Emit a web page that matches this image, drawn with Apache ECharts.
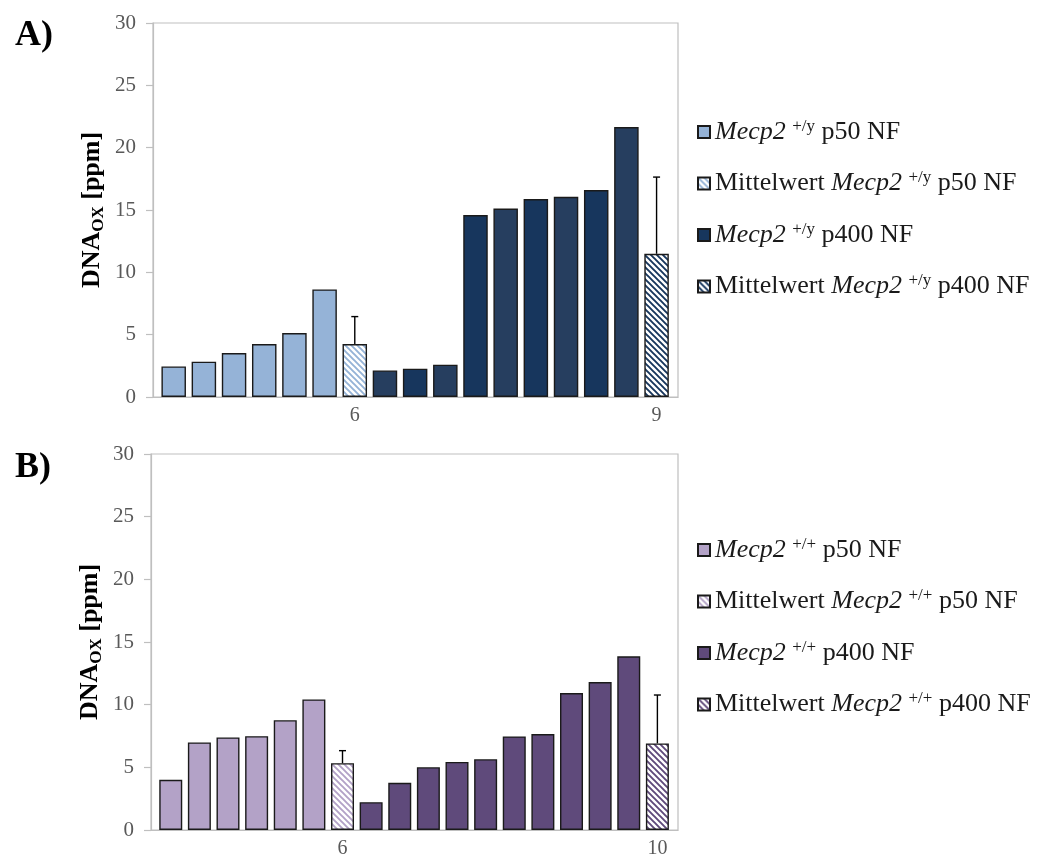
<!DOCTYPE html>
<html>
<head>
<meta charset="utf-8">
<script src="https://cdn.jsdelivr.net/npm/echarts@6.0.0/dist/echarts.min.js"></script>
<style>
  html, body { margin: 0; padding: 0; background: #fff; }
  #chart { width: 1043px; height: 859px; }
</style>
</head>
<body>
<div id="chart"></div>
<script>
// ---------------- DATA ----------------
// Panel A (Mecp2 +/y)
const A_p50 = [2.45, 2.83, 3.53, 4.25, 5.13, 8.63];
const A_p50_mean = [4.25];
const A_p50_err = [2.2];
const A_p400 = [2.13, 2.27, 2.59, 14.6, 15.12, 15.88, 16.06, 16.6, 21.65];
const A_p400_mean = [11.49];
const A_p400_err = [6.15];
const A_tickLabels = ['6', '9'];
const A_names = ['Mecp2 +/y p50 NF', 'Mittelwert Mecp2 +/y p50 NF', 'Mecp2 +/y p400 NF', 'Mittelwert Mecp2 +/y p400 NF'];

// Panel B (Mecp2 +/+)
const B_p50 = [4.0, 6.99, 7.39, 7.49, 8.76, 10.42];
const B_p50_mean = [5.33];
const B_p50_err = [1.0];
const B_p400 = [2.22, 3.77, 5.01, 5.43, 5.65, 7.47, 7.65, 10.93, 11.80, 13.86];
const B_p400_mean = [6.91];
const B_p400_err = [3.86];
const B_tickLabels = ['6', '10'];
const B_names = ['Mecp2 +/+ p50 NF', 'Mittelwert Mecp2 +/+ p50 NF', 'Mecp2 +/+ p400 NF', 'Mittelwert Mecp2 +/+ p400 NF'];

const yTicks = [0, 5, 10, 15, 20, 25, 30];
const yTitle = ['DNA', 'OX', ' [ppm]'];
const panelLabels = ['A)', 'B)'];

// ---------------- STYLE ----------------
const FONT = 'Liberation Serif';
const GRAY = '#bfbfbf';
const BORDER = '#1a1a1a';

function hatch(color) {
  const c = document.createElement('canvas');
  c.width = 6; c.height = 6;
  const ctx = c.getContext('2d');
  ctx.fillStyle = '#ffffff';
  ctx.fillRect(0, 0, 6, 6);
  ctx.strokeStyle = color;
  ctx.lineWidth = 1.9;
  ctx.beginPath();
  for (const k of [-6, 0, 6]) { ctx.moveTo(k - 1, -1); ctx.lineTo(k + 7, 7); }
  ctx.stroke();
  return { image: c, repeat: 'repeat' };
}

function groupPositions(p50, p400) {
  const x50 = p50.map((_, i) => i);
  const xm50 = p50.length;
  const x400 = p400.map((_, i) => p50.length + 1 + i);
  const xm400 = p50.length + 1 + p400.length;
  return { x50, xm50, x400, xm400 };
}

function panelSeries(idx, names, p50, m50, e50, p400, m400, e400, cols, barW) {
  const pos = groupPositions(p50, p400);
  const base = { type: 'bar', xAxisIndex: idx, yAxisIndex: idx, stack: 'g' + idx, barWidth: barW,
                 itemStyle: { borderColor: BORDER, borderWidth: 1.4 } };
  const errRender = function (params, api) {
    const x = api.value(0), m = api.value(1), e = api.value(2);
    const p0 = api.coord([x, m]);
    const p1 = api.coord([x, m + e]);
    const style = { stroke: '#000', lineWidth: 1.4 };
    return { type: 'group', children: [
      { type: 'line', shape: { x1: p0[0], y1: p0[1], x2: p1[0], y2: p1[1] }, style },
      { type: 'line', shape: { x1: p1[0] - 3.5, y1: p1[1], x2: p1[0] + 3.5, y2: p1[1] }, style }
    ]};
  };
  return [
    Object.assign({}, base, { name: names[0], data: p50.map((v, i) => [pos.x50[i], v]),
      itemStyle: Object.assign({}, base.itemStyle, { color: cols.light }) }),
    Object.assign({}, base, { name: names[1], data: m50.map(v => [pos.xm50, v]),
      itemStyle: Object.assign({}, base.itemStyle, { color: hatch(cols.light) }) }),
    Object.assign({}, base, { name: names[2], data: p400.map((v, i) => ({ value: [pos.x400[i], v],
        itemStyle: { color: cols.darkAlt ? (i % 2 === 1 ? cols.dark : cols.darkAlt) : cols.dark } })),
      itemStyle: Object.assign({}, base.itemStyle, { color: cols.dark }) }),
    Object.assign({}, base, { name: names[3], data: m400.map(v => [pos.xm400, v]),
      itemStyle: Object.assign({}, base.itemStyle, { color: hatch(cols.dark) }) }),
    { type: 'custom', xAxisIndex: idx, yAxisIndex: idx, renderItem: errRender, z: 5,
      data: [[pos.xm50, m50[0], e50[0]], [pos.xm400, m400[0], e400[0]]] }
  ];
}

const LF = 26;
const legendRich = {
  i: { fontFamily: FONT, fontSize: LF, fontStyle: 'italic', color: '#1a1a1a', lineHeight: 28 },
  s: { fontFamily: FONT, fontSize: 17, color: '#1a1a1a', lineHeight: 15, verticalAlign: 'top' },
  n: { fontFamily: FONT, fontSize: LF, color: '#1a1a1a', lineHeight: 28 }
};
function legendFmt(name) {
  const m = name.match(/^(.*?)Mecp2 (\S+) (.*)$/);
  return (m[1] ? '{n|' + m[1] + '}' : '') + '{i|Mecp2 }{s|' + m[2] + '}{n| ' + m[3] + '}';
}
function legend(names, top) {
  return { data: names, orient: 'vertical', left: 692, top: top, itemWidth: 12, itemHeight: 12,
    itemGap: 23.5, icon: 'rect', formatter: legendFmt,
    textStyle: { fontFamily: FONT, fontSize: LF, color: '#1a1a1a', lineHeight: 28, rich: legendRich } };
}

function yAxis(idx) {
  return { type: 'value', gridIndex: idx, min: yTicks[0], max: yTicks[yTicks.length - 1],
    interval: yTicks[1] - yTicks[0],
    name: '{b|' + yTitle[0] + '}{s|' + yTitle[1] + '}{b|' + yTitle[2] + '}',
    nameLocation: 'middle', nameGap: 46, nameRotate: 90, nameMoveOverlap: false,
    nameTextStyle: { rich: {
      b: { fontFamily: FONT, fontSize: 26, fontWeight: 'bold', color: '#000', lineHeight: 30 },
      s: { fontFamily: FONT, fontSize: 17, fontWeight: 'bold', color: '#000', lineHeight: 16, verticalAlign: 'bottom' }
    } },
    axisLine: { show: true, onZero: false, lineStyle: { color: GRAY, width: 1.2 } },
    axisTick: { show: true, inside: false, length: 7, lineStyle: { color: GRAY, width: 1.2 } },
    axisLabel: { fontFamily: FONT, fontSize: 21, color: '#595959', margin: 17 },
    splitLine: { show: false } };
}

function xAxis(idx, min, max, tickLabels, p50, p400) {
  const pos = groupPositions(p50, p400);
  const vals = [pos.xm50, pos.xm400];
  return { type: 'value', gridIndex: idx, min: min, max: max,
    axisLine: { show: true, onZero: false, lineStyle: { color: GRAY, width: 1.2 } },
    axisTick: { show: false },
    splitLine: { show: false },
    axisLabel: { customValues: vals, fontFamily: FONT, fontSize: 20, color: '#595959', margin: 9,
      formatter: v => tickLabels[vals.indexOf(v)] } };
}

const option = {
  animation: false,
  backgroundColor: '#ffffff',
  title: [
    { text: panelLabels[0], left: 10, top: 13, textStyle: { fontFamily: FONT, fontSize: 36, fontWeight: 'bold', color: '#000' } },
    { text: panelLabels[1], left: 10, top: 445, textStyle: { fontFamily: FONT, fontSize: 36, fontWeight: 'bold', color: '#000' } }
  ],
  grid: [
    { left: 153, top: 23, width: 525, height: 374, show: true, borderColor: GRAY, borderWidth: 1.2, backgroundColor: 'transparent' },
    { left: 151, top: 454, width: 527, height: 379, show: true, borderColor: GRAY, borderWidth: 1.2, backgroundColor: 'transparent' }
  ],
  xAxis: [
    xAxis(0, -0.686, 16.71, A_tickLabels, A_p50, A_p400),
    xAxis(1, -0.69, 17.72, B_tickLabels, B_p50, B_p400)
  ],
  yAxis: [yAxis(0), yAxis(1)],
  legend: [legend(A_names, 113), legend(B_names, 531)],
  series: [].concat(
    panelSeries(0, A_names, A_p50, A_p50_mean, A_p50_err, A_p400, A_p400_mean, A_p400_err,
      { light: '#95b3d7', dark: '#17365d', darkAlt: '#263e5f' }, 24.5),
    panelSeries(1, B_names, B_p50, B_p50_mean, B_p50_err, B_p400, B_p400_mean, B_p400_err,
      { light: '#b3a2c7', dark: '#5f4a7b' }, 23)
  )
};

const chart = echarts.init(document.getElementById('chart'), null, { renderer: 'canvas' });
chart.setOption(option);
</script>
</body>
</html>
